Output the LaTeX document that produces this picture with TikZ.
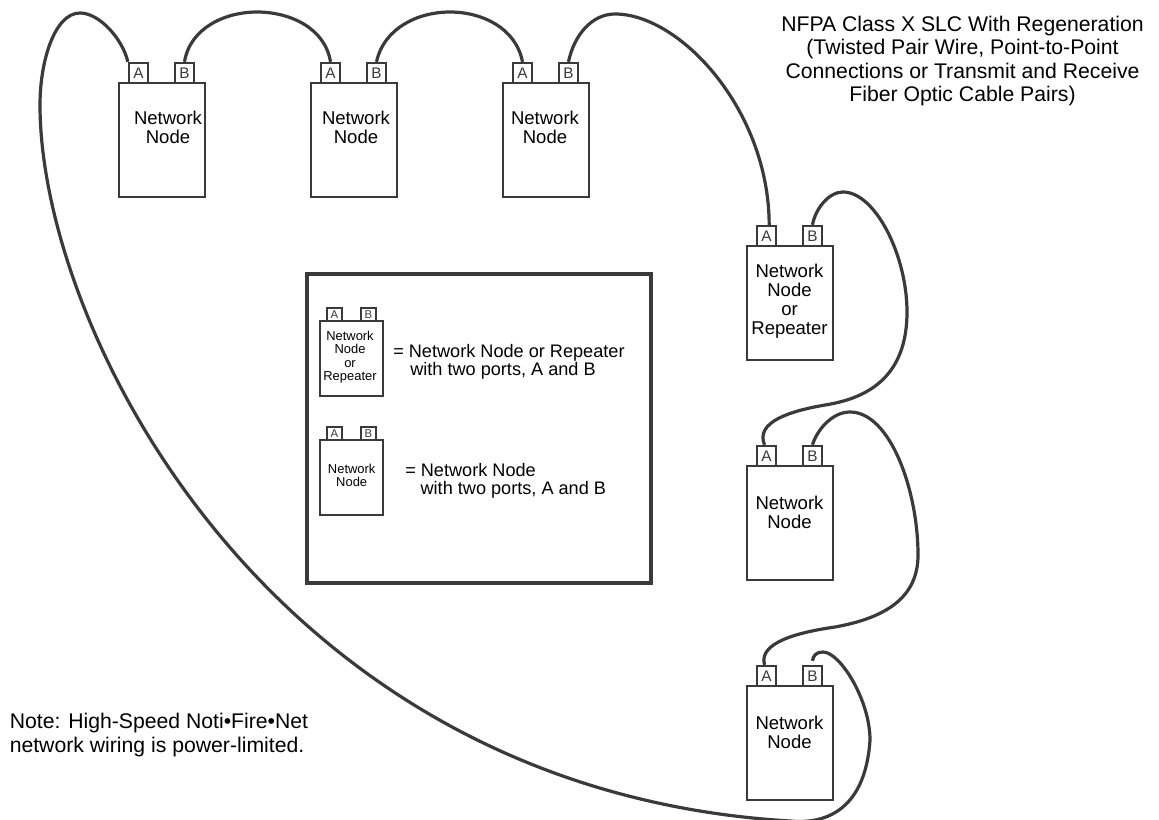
\documentclass[tikz,border=0pt]{standalone}
\usepackage{fontspec}
\setmainfont{Liberation Sans}
\definecolor{wire}{HTML}{3A3A3A}
\tikzset{
	netbox/.style={draw=wire, line width=1.75pt, minimum width=64.5pt, minimum height=85.5pt, inner sep=0pt},
	portbox/.style={draw=wire, fill=white, line width=1.75pt, minimum width=14.25pt, minimum height=15pt, inner sep=0pt, font=\fontsize{11.5}{12}\selectfont, text=wire},
	smallbox/.style={draw=wire, line width=1.75pt, minimum width=47pt, minimum height=56pt, inner sep=0pt},
	smallport/.style={draw=wire, fill=white, line width=1.75pt, minimum width=11pt, minimum height=10pt, inner sep=0pt, font=\fontsize{8.5}{9}\selectfont, text=wire},
	nodetext/.style={align=center, inner sep=0pt, font=\fontsize{13.9}{14.2}\selectfont},
	smalltext/.style={align=center, inner sep=0pt, font=\fontsize{9.7}{10}\selectfont},
	legendtext/.style={align=left, anchor=west, inner sep=0pt, font=\fontsize{13.6}{13.9}\selectfont},
	wiring/.style={draw=wire, line width=2.4pt}
}
\begin{document}
\begin{tikzpicture}[x=0.75pt, y=-0.75pt]
	\useasboundingbox (0,0) rectangle (1159,820);

	% Title and note
	\node[align=center, inner sep=0pt, font=\fontsize{15.9}{17.7}\selectfont] (title) at (962.5,61) {NFPA Class X SLC With Regeneration\\(Twisted Pair Wire, Point-to-Point\\Connections or Transmit and Receive\\Fiber Optic Cable Pairs)};
	\node[align=left, anchor=west, inner sep=0pt, font=\fontsize{15.9}{18.4}\selectfont] (note) at (9.5,735) {Note: High-Speed Noti\textbullet Fire\textbullet Net\\network wiring is power-limited.};

	% Top row
	\node[netbox] (node1) at (162,140) {};
	\node[portbox] (port1A) at (138.5,73) {A};
	\node[portbox] (port1B) at (184.5,73) {B};
	\node[nodetext] (text1) at (168,127) {Network\\Node};

	\node[netbox] (node2) at (354,140) {};
	\node[portbox] (port2A) at (330.5,73) {A};
	\node[portbox] (port2B) at (376.5,73) {B};
	\node[nodetext] (text2) at (356,127) {Network\\Node};

	\node[netbox] (node3) at (546,140) {};
	\node[portbox] (port3A) at (522.5,73) {A};
	\node[portbox] (port3B) at (568.5,73) {B};
	\node[nodetext] (text3) at (545,127) {Network\\Node};

	% Right column
	\node[netbox] (node4) at (790,303) {};
	\node[portbox] (port4A) at (766.5,236) {A};
	\node[portbox] (port4B) at (812.5,236) {B};
	\node[nodetext] (text4) at (789.5,301) {Network\\Node\\or\\Repeater};

	\node[netbox] (node5) at (790,523) {};
	\node[portbox] (port5A) at (766.5,456) {A};
	\node[portbox] (port5B) at (812.5,456) {B};
	\node[nodetext] (text5) at (789.5,512) {Network\\Node};

	\node[netbox] (node6) at (790,743) {};
	\node[portbox] (port6A) at (766.5,676) {A};
	\node[portbox] (port6B) at (812.5,676) {B};
	\node[nodetext] (text6) at (789.5,732) {Network\\Node};

	% Legend
	\node[draw=wire, line width=2.7pt, minimum width=258pt, minimum height=231.5pt] (legend) at (479,428.5) {};
	\node[smallbox] (keynode1) at (351.5,358.5) {};
	\node[smallport] (keyport1A) at (334.5,314.5) {A};
	\node[smallport] (keyport1B) at (368.5,314.5) {B};
	\node[smalltext] (keytext1) at (350,357) {Network\\Node\\or\\Repeater};
	\node[legendtext] (keylabel1) at (393,362) {= Network Node or Repeater\\\hspace*{12.75pt}with two ports, A and B};
	\node[smallbox] (keynode2) at (351.5,477.5) {};
	\node[smallport] (keyport2A) at (334.5,433.5) {A};
	\node[smallport] (keyport2B) at (368.5,433.5) {B};
	\node[smalltext] (keytext2) at (351.7,475.5) {Network\\Node};
	\node[legendtext] (keylabel2) at (405,481) {= Network Node\\\hspace*{11.5pt}with two ports, A and B};

	% Wiring
	\draw[wiring] (port1B.north) .. controls (190,28) and (225,12) .. (257,12) .. controls (290,12) and (325,28) .. (port2A.north);
	\draw[wiring] (port2B.north) .. controls (384,28) and (418,12) .. (450,12) .. controls (482,12) and (516,28) .. (port3A.north);
	\draw[wiring] (port3B.north) .. controls (574,35) and (592,14) .. (615,14) .. controls (680,14) and (769,110) .. ([xshift=2pt]port4A.north);
	\draw[wiring] (port4B.north) .. controls (815,210) and (828,192) .. (843,192) .. controls (875,192) and (907,255) .. (907,312) .. controls (907,375) and (870,398) .. (825,405) .. controls (790,411) and (755,422) .. ([xshift=-1.5pt]port5A.north);
	\draw[wiring] (port5B.north) .. controls (817,430) and (832,412) .. (850,412) .. controls (890,412) and (918,490) .. (918,555) .. controls (918,598) and (885,618) .. (835,627) .. controls (800,632) and (758,642) .. ([xshift=-1.5pt]port6A.north);
	\draw[wiring] (port1A.north west) .. controls (123,40) and (100,13) .. (80,13) .. controls (55,13) and (40,60) .. (40,105) .. controls (40,330) and (270,790) .. (790,821) .. controls (820,824) and (865,815) .. (870,740) .. controls (870,700) and (840,652) .. (823,652) .. controls (816,652) and (813,656) .. ([yshift=3pt]port6B.north);
\end{tikzpicture}
\end{document}
